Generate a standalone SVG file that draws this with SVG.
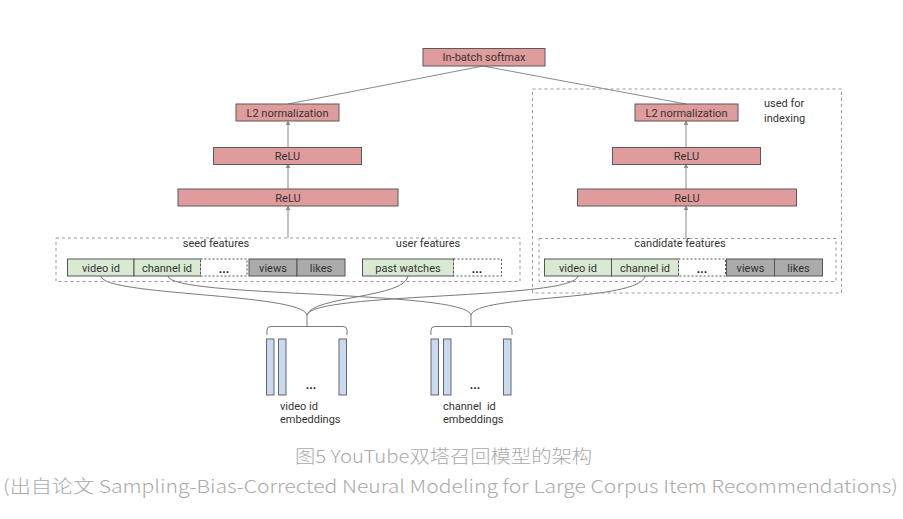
<svg xmlns="http://www.w3.org/2000/svg" width="903" height="519" viewBox="0 0 903 519">
<style>
.red{fill:#e09c9c;stroke:#5a5a5a;stroke-width:1}
.green{fill:#d9ead3;stroke:#555;stroke-width:1}
.gray{fill:#ababab;stroke:#555;stroke-width:1}
.dcell{fill:#fff;stroke:#555;stroke-width:1;stroke-dasharray:2 2}
.dbox{fill:none;stroke:#999;stroke-width:1;stroke-dasharray:3 3}
.bar{fill:#c9daf0;stroke:#666;stroke-width:1}
.t{font-family:Roboto,"Open Sans",sans-serif;font-size:11px;fill:#333;text-anchor:middle}
.tl{font-family:Roboto,"Open Sans",sans-serif;font-size:11px;fill:#333}
.dots{font-family:Roboto,sans-serif;font-size:12px;font-weight:bold;fill:#222;text-anchor:middle}
.ln{fill:none;stroke:#8a8a8a;stroke-width:1}
.cv{fill:none;stroke:#7a7a7a;stroke-width:1}
.cap{font-family:"Noto Sans CJK SC","Noto Sans",sans-serif;fill:#aaaaaa;font-size:18px;font-weight:300}
</style>
<defs>
<marker id="ah" markerWidth="6" markerHeight="6" refX="3" refY="3" orient="auto" markerUnits="userSpaceOnUse">
<path d="M0,0.8 L5,3 L0,5.2 Z" fill="#8a8a8a"/>
</marker>
</defs>

<g id="connectors">
<line class="ln" x1="483" y1="66" x2="288" y2="104"/>
<line class="ln" x1="483" y1="66" x2="686" y2="104"/>
<line class="ln" x1="288" y1="238" x2="288" y2="207" marker-end="url(#ah)"/>
<line class="ln" x1="288" y1="189" x2="288" y2="165" marker-end="url(#ah)"/>
<line class="ln" x1="288" y1="147" x2="288" y2="122" marker-end="url(#ah)"/>
<line class="ln" x1="686" y1="238" x2="686" y2="207" marker-end="url(#ah)"/>
<line class="ln" x1="686" y1="189" x2="686" y2="165" marker-end="url(#ah)"/>
<line class="ln" x1="686" y1="147" x2="686" y2="122" marker-end="url(#ah)"/>
<path class="cv" d="M101,276 C102,296 302,293 307,315"/>
<path class="cv" d="M408,276 C405,298 312,296 307,315"/>
<path class="cv" d="M578,276 C574,300 312,292 307,315"/>
<path class="cv" d="M168,276 C170,298 466,290 471,315"/>
<path class="cv" d="M645,276 C640,302 476,294 471,315"/>
<path class="cv" d="M307,315 V326 M267,335 V330 Q267,326.5 271,326.5 H343 Q347,326.5 347,330 V335"/>
<path class="cv" d="M471,315 V326 M431,335 V330 Q431,326.5 435,326.5 H508 Q512,326.5 512,330 V335"/>
</g>

<g id="softmax">
<rect class="red" x="423" y="48.5" width="122" height="17.5"/>
<text class="t" x="484" y="61">In-batch softmax</text>
</g>

<g id="left-tower">
<g id="l2-left"><rect class="red" x="236" y="104" width="103" height="17"/><text class="t" x="287.5" y="116.5">L2 normalization</text></g>
<g id="relu2-left"><rect class="red" x="213.5" y="147.5" width="148" height="17"/><text class="t" x="287.5" y="160">ReLU</text></g>
<g id="relu1-left"><rect class="red" x="178" y="189" width="220" height="17"/><text class="t" x="288" y="201.5">ReLU</text></g>
</g>

<g id="query-features">
<rect class="dbox" x="56" y="238" width="464" height="43.5"/>
<text class="t" x="216" y="247">seed features</text>
<text class="t" x="428" y="247">user features</text>
<g id="q-video-id"><rect class="green" x="67.5" y="259" width="66.5" height="17"/><text class="t" x="101" y="271.5">video id</text></g>
<g id="q-channel-id"><rect class="green" x="134" y="259" width="66.5" height="17"/><text class="t" x="167" y="271.5">channel id</text></g>
<g id="q-dots1"><rect class="dcell" x="200.5" y="259" width="46.5" height="17"/><text class="dots" x="224" y="273">...</text></g>
<g id="q-views"><rect class="gray" x="249" y="259" width="48" height="17"/><text class="t" x="273" y="271.5">views</text></g>
<g id="q-likes"><rect class="gray" x="297" y="259" width="48" height="17"/><text class="t" x="321" y="271.5">likes</text></g>
<g id="q-past"><rect class="green" x="362.5" y="259" width="91" height="17"/><text class="t" x="408" y="271.5">past watches</text></g>
<g id="q-dots2"><rect class="dcell" x="453.5" y="259" width="48" height="17"/><text class="dots" x="477" y="273">...</text></g>
</g>

<g id="right-tower">
<rect class="dbox" x="532.5" y="89" width="309" height="204"/>
<text class="tl" x="764" y="107">used for</text>
<text class="tl" x="764" y="121.5">indexing</text>
<g id="l2-right"><rect class="red" x="635" y="104" width="103" height="17"/><text class="t" x="686.5" y="116.5">L2 normalization</text></g>
<g id="relu2-right"><rect class="red" x="612.5" y="147.5" width="148" height="17"/><text class="t" x="686.5" y="160">ReLU</text></g>
<g id="relu1-right"><rect class="red" x="577.5" y="189" width="219" height="17"/><text class="t" x="687" y="201.5">ReLU</text></g>
<g id="candidate-features">
<rect class="dbox" x="539" y="238.5" width="297" height="43"/>
<text class="t" x="680" y="247">candidate features</text>
<g id="c-video-id"><rect class="green" x="544.5" y="259" width="67" height="17"/><text class="t" x="578" y="271.5">video id</text></g>
<g id="c-channel-id"><rect class="green" x="611.5" y="259" width="67" height="17"/><text class="t" x="645" y="271.5">channel id</text></g>
<g id="c-dots"><rect class="dcell" x="678.5" y="259" width="47" height="17"/><text class="dots" x="702" y="273">...</text></g>
<g id="c-views"><rect class="gray" x="726.5" y="259" width="48" height="17"/><text class="t" x="750.5" y="271.5">views</text></g>
<g id="c-likes"><rect class="gray" x="774.5" y="259" width="48" height="17"/><text class="t" x="798.5" y="271.5">likes</text></g>
</g>
</g>

<g id="video-embeddings">
<rect class="bar" x="266.5" y="339" width="7.5" height="56"/>
<rect class="bar" x="278.5" y="339" width="7.5" height="56"/>
<rect class="bar" x="339" y="339" width="7.5" height="56"/>
<text class="dots" x="311" y="389">...</text>
<text class="tl" x="280" y="410">video id</text>
<text class="tl" x="280" y="423">embeddings</text>
</g>

<g id="channel-embeddings">
<rect class="bar" x="431" y="339" width="7.5" height="56"/>
<rect class="bar" x="443.5" y="339" width="7.5" height="56"/>
<rect class="bar" x="503.5" y="339" width="7.5" height="56"/>
<text class="dots" x="475" y="389">...</text>
<text class="tl" x="443" y="410" xml:space="preserve">channel  id</text>
<text class="tl" x="443" y="423">embeddings</text>
</g>

<g id="caption">
<text class="cap" x="295" y="463" textLength="297" lengthAdjust="spacingAndGlyphs">图5 YouTube双塔召回模型的架构</text>
<text class="cap" x="3" y="493" textLength="895" lengthAdjust="spacingAndGlyphs">(出自论文 Sampling-Bias-Corrected Neural Modeling for Large Corpus Item Recommendations)</text>
</g>
</svg>
